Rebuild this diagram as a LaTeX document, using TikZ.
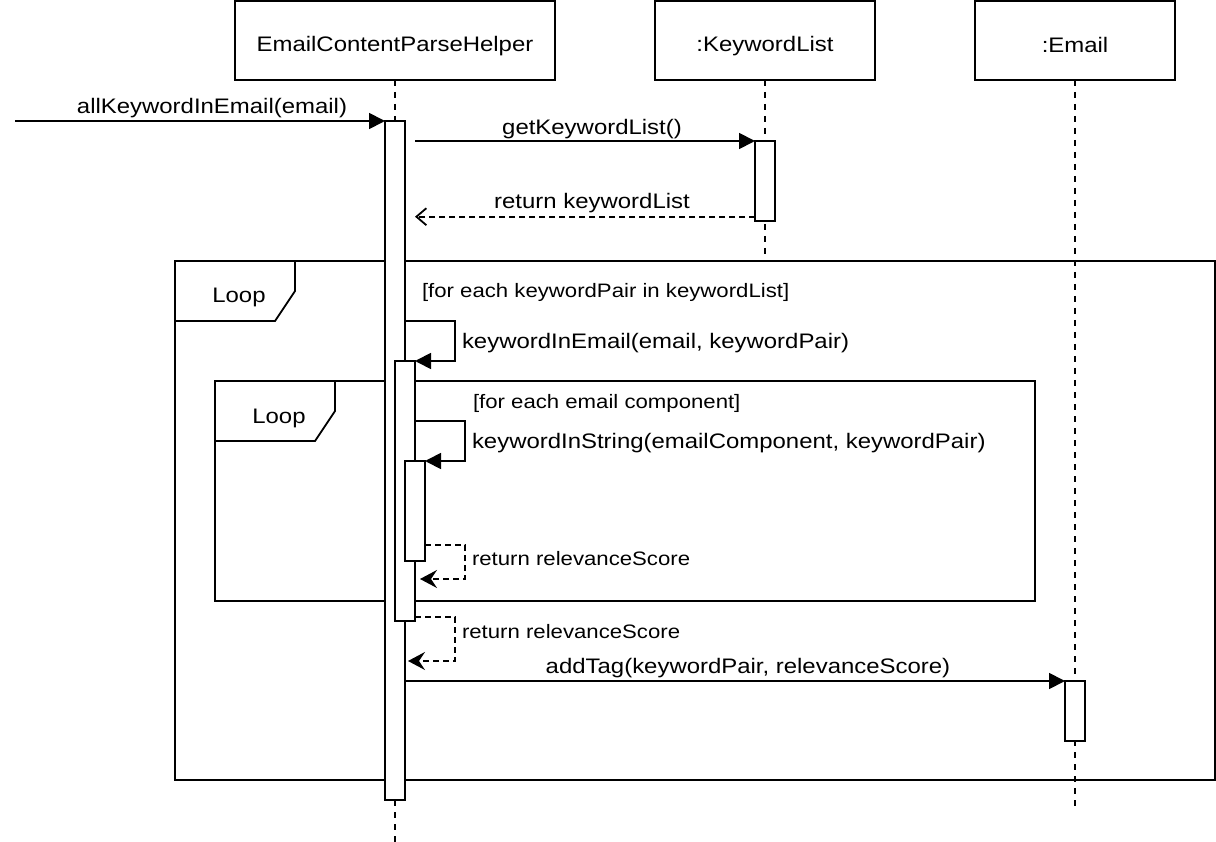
\documentclass[tikz,border=0pt]{standalone}
\usepackage{fontspec}
\setmainfont{Liberation Sans}[FakeStretch=1.14]
\usetikzlibrary{arrows.meta,calc}
\begin{document}
\begin{tikzpicture}[x=1pt,y=-1pt,line width=1.8pt,
  every node/.style={inner sep=0pt,outer sep=0pt,font=\fontsize{21}{25}\selectfont},
  head/.style={draw,fill=white,minimum width=#1,minimum height=79pt,text height=27pt,text depth=4pt},
  lifeline/.style={dash pattern=on 6pt off 6pt},
  act/.style={draw,fill=white,minimum width=20pt,minimum height=#1},
  frame/.style={draw},
  call/.style={-{Triangle[length=16pt,width=16pt]}},
  reply/.style={dash pattern=on 6pt off 4pt,-{Straight Barb[length=10pt,width=17pt]}},
  selfreply/.style={dash pattern=on 6pt off 4pt,-{Stealth[length=17pt,width=18pt,inset=6pt]}},
  lbl/.style={anchor=base},
  lblw/.style={anchor=base west},
  guardtxt/.style={anchor=base west,font=\fontsize{19.45}{23}\selectfont},
]
\useasboundingbox (0,0) rectangle (1216,842);

% combined fragments
\node[frame,minimum width=1040pt,minimum height=519pt] (loopA) at (695,520.5) {};
\draw (loopA.north west) ++(120,0) -- ++(0,30) -- ++(-20,30) -- ++(-100,0);
\node[lbl] (loopAtxt) at (239,303) {Loop};
\node[frame,minimum width=820pt,minimum height=220pt] (loopB) at (625,491) {};
\draw (loopB.north west) ++(120,0) -- ++(0,30) -- ++(-20,30) -- ++(-100,0);
\node[lbl] (loopBtxt) at (279,423) {Loop};

% participants
\node[head=320pt] (h1) at (395,40.5) {EmailContentParseHelper};
\node[head=220pt] (h2) at (765,40.5) {:KeywordList};
\node[head=200pt,text height=28pt] (h3) at (1075,40.5) {:Email};

% lifelines
\coordinate (end1) at (395,842);
\coordinate (end2) at (765,255);
\coordinate (end3) at (1075,806);
\draw[lifeline] (h1.south) -- (end1);
\draw[lifeline] (h2.south) -- (end2);
\draw[lifeline] (h3.south) -- (end3);

% activations
\node[act=679pt] (a1) at (395,460.5) {};
\node[act=80pt] (a2) at (765,181) {};
\node[act=260pt] (a3) at (405,491) {};
\node[act=100pt] (a4) at (415,511) {};
\node[act=60pt] (a5) at (1075,711) {};

% messages
\coordinate (caller) at (15,121);
\draw[call] (caller) -- (a1.north west);
\node[lbl] (m1) at (212,113.5) {allKeywordInEmail(email)};

\coordinate (s2) at (415,141);
\draw[call] (s2) -- (a2.north west);
\node[lbl] (m2) at (592,134.5) {getKeywordList()};

\coordinate (r2) at (415,216.7);
\draw[reply] ($(a2.south west)+(0,-4.3)$) -- (r2);
\node[lbl] (m3) at (592,209) {return keywordList};

\node[guardtxt] (g1) at (422,298) {[for each keywordPair in keywordList]};

\coordinate (s4) at (405,321);
\draw[call] (s4) -- ++(50,0) -- ++(0,40) -- (a3.north east);
\node[lblw] (m4) at (462,348.5) {keywordInEmail(email, keywordPair)};

\node[guardtxt] (g2) at (473,408) {[for each email component]};

\coordinate (s5) at (415,421);
\draw[call] (s5) -- ++(50,0) -- ++(0,40) -- (a4.north east);
\node[lblw] (m5) at (472,448.5) {keywordInString(emailComponent, keywordPair)};

\coordinate (r6) at (420,579);
\draw[selfreply] ($(a4.south east)+(0,-16)$) -- ++(40,0) -- ++(0,34) -- (r6);
\node[guardtxt] (m6) at (472,565) {return relevanceScore};

\coordinate (r7) at (408,661);
\draw[selfreply] ($(a3.south east)+(0,-4)$) -- ++(40,0) -- ++(0,44) -- (r7);
\node[guardtxt] (m7) at (462,638) {return relevanceScore};

\coordinate (s8) at (405,681);
\draw[call] (s8) -- (a5.north west);
\node[lbl] (m8) at (748,673) {addTag(keywordPair, relevanceScore)};
\end{tikzpicture}
\end{document}
